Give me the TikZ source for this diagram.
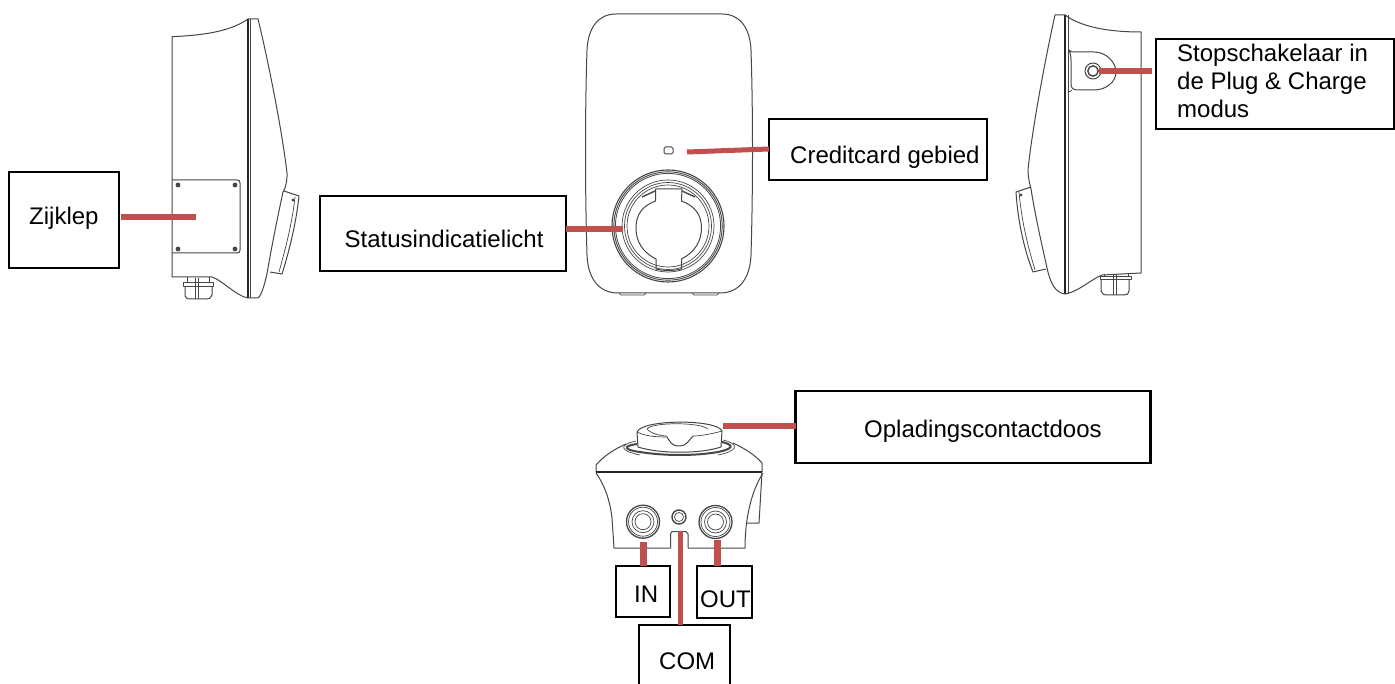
\documentclass[tikz,border=0pt]{standalone}
\usepackage{fontspec}
\setmainfont{Liberation Sans}
\definecolor{redline}{RGB}{192,80,77}
\definecolor{ink}{RGB}{70,70,70}
\tikzset{
  box/.style={draw=black,line width=2.8pt,rectangle,inner sep=0pt,outer sep=0pt},
  lbl/.style={font=\fontsize{24}{28}\selectfont,inner sep=0pt,anchor=base west,text=black},
  lead/.style={draw=redline,line width=6.5pt},
  art/.style={draw=ink,line width=1pt,line join=round},
  artthick/.style={draw=black!85,line width=2pt},
  fine/.style={draw=ink,line width=.7pt},
}
\begin{document}
\begin{tikzpicture}[x=1pt,y=-1pt]
\clip (0,0) rectangle (1395,684);
\useasboundingbox (0,0) rectangle (1395,684);
\fill[white] (0,0) rectangle (1395,684);

% ---- left side view
\draw[art] (248,19) .. controls (232,30) and (210,35) .. (172,36.7) -- (172,277) -- (212,277)
  .. controls (222,280) and (236,296) .. (248,298);
\draw[artthick] (248,19) -- (248,298);
\draw[fine] (250.5,19) -- (250.5,298);
\draw[art] (248,19) -- (258,19) .. controls (268,60) and (282,130) .. (287,173)
  .. controls (287.5,180) and (285,190) .. (283,192)
  .. controls (277,220) and (272,245) .. (268,268) .. controls (266,280) and (262,295) .. (258,298) -- (248,298);
\draw[art] (284,191) -- (299,196) .. controls (296,225) and (288,255) .. (282,274) -- (270,272);
\draw[fine] (295,197) .. controls (292,225) and (285,250) .. (279,272);
\fill[ink] (293,200) circle (1.6);
\draw[art] (172,180) -- (237,180) .. controls (239,180) and (240,181) .. (240,183) -- (240,250) .. controls (240,252) and (239,253) .. (237,253) -- (172,253);
\foreach \sx/\sy in {178/185,235/185,178/249,235/249}{\fill[ink] (\sx,\sy) circle (2.4);}
\draw[art] (183,283) rectangle (213,287);
\draw[art] (185,287) -- (185,296) .. controls (186,299) and (188,299) .. (190,299) -- (207,299) .. controls (209,299) and (211,298) .. (212,295) -- (212,287);
\draw[fine] (198,278) -- (198,299);\draw[fine] (195,278) -- (195,299);
\draw[fine] (187,277) -- (187,283);\draw[fine] (209,277) -- (209,283);

% ---- front view
\draw[art] (616,14) -- (722,14) .. controls (740,14) and (750,28) .. (751,50)
  .. controls (753,110) and (753,190) .. (751,255) .. controls (750,280) and (738,293) .. (720,293)
  -- (618,293) .. controls (600,293) and (588,280) .. (587,255)
  .. controls (585,190) and (585,110) .. (587,50) .. controls (588,28) and (598,14) .. (616,14) -- cycle;
\draw[fine] (619,293) -- (621,295) -- (644,295) -- (646,293);
\draw[fine] (692,293) -- (694,295) -- (717,295) -- (719,293);
\draw[art,rounded corners=1.5pt] (664,147) rectangle (673,154);
\draw[line width=1.1pt,draw=ink] (668,226) circle (56);
\draw[line width=.9pt,draw=ink] (668,226) circle (54.2);
\draw[line width=.8pt,draw=ink] (668,226) circle (52.6);
\draw[fine] (668,226) circle (46);
\draw[fine] (668,226) circle (43.5);
\draw[fine] (668,226) circle (41);
\draw[art] (655.5,189) -- (682,189) -- (681.5,201) .. controls (695,206) and (701.5,215) .. (701.5,228)
  .. controls (701.5,241) and (695,252) .. (681.5,259) -- (681.5,269) .. controls (673,271) and (664,271) .. (656,269)
  -- (656,259) .. controls (642,252) and (636,241) .. (636,228) .. controls (636,215) and (642,206) .. (655.5,201) -- cycle;
\draw[line width=1.4pt,draw=ink] (642,197) -- (655,191); \draw[line width=1.4pt,draw=ink] (682,191) -- (695,197);

% ---- right side view
\draw[art] (1065,15) .. controls (1080,26) and (1105,32) .. (1141,32) -- (1141,273) -- (1102,275)
  .. controls (1090,280) and (1078,292) .. (1065,294);
\draw[artthick] (1065,15) -- (1065,294);
\draw[fine] (1068,15) -- (1068,294);
\draw[art] (1065,15) -- (1055,15) .. controls (1045,60) and (1032,130) .. (1028,170)
  .. controls (1028,178) and (1030,185) .. (1031,189)
  .. controls (1036,220) and (1042,245) .. (1047,268) .. controls (1050,282) and (1055,293) .. (1065,294);
\draw[art] (1031,187) -- (1016,192) .. controls (1018,225) and (1026,255) .. (1033,272) -- (1046,269);
\draw[fine] (1019,192) .. controls (1022,225) and (1029,250) .. (1035,270);
\fill[ink] (1021,195) circle (1.6);
\draw[art] (1069,50) .. controls (1071,52) and (1072,52) .. (1074,52) -- (1094,52)
  .. controls (1106,52) and (1116,62) .. (1116,72) .. controls (1116,82) and (1106,90) .. (1094,90)
  -- (1078,90) .. controls (1073,90) and (1071,88) .. (1071,84) -- (1071,60) .. controls (1071,56) and (1070,52) .. (1069,50);
\draw[fine] (1068,92) .. controls (1070,92) and (1071,91) .. (1072,90);
\draw[art] (1093,71) circle (8);
\draw[line width=1.4pt,draw=ink] (1093,71) circle (5.2);
\draw[art] (1100,277) rectangle (1131,280);
\draw[art] (1101,280) -- (1101,291) .. controls (1102,294) and (1104,295) .. (1106,295) -- (1124,295) .. controls (1127,295) and (1129,294) .. (1129,291) -- (1129,280);
\draw[fine] (1113,274) -- (1113,295);\draw[fine] (1116,274) -- (1116,295);
\draw[fine] (1104,274) -- (1104,277);\draw[fine] (1128,274) -- (1128,277);

% ---- bottom view
\draw[art] (637,432) .. controls (642,419) and (717,419) .. (722,431)
  -- (721,447) .. controls (700,454) and (660,454) .. (638,447) -- cycle;
\draw[fine] (647,429) .. controls (652,422) and (700,422) .. (708,429);
\draw[fine] (647,429) .. controls (650,433) and (660,436) .. (667,436);
\draw[fine] (693,436) .. controls (700,436) and (712,434) .. (722,431);
\draw[fine] (637,432) .. controls (645,436) and (655,437) .. (667,437);
\draw[art] (667,437) .. controls (670,441) and (671,446) .. (679,446) .. controls (687,446) and (689,440) .. (693,436);
\draw[line width=2pt,draw=ink] (637,444) .. controls (622,446) and (624,450) .. (640,452) .. controls (665,456) and (695,456) .. (718,452) .. controls (733,449) and (735,445) .. (722,442);
\draw[fine] (636,441) .. controls (618,445) and (620,451) .. (640,455);
\draw[fine] (723,440) .. controls (740,444) and (738,451) .. (718,455);
\draw[art] (626,444) .. controls (612,450) and (602,458) .. (596,465) -- (596,472);
\draw[art] (733,443) .. controls (746,449) and (756,456) .. (762,463) -- (762,472);
\draw[artthick] (596,472) -- (762,472);
\draw[art] (596,473) .. controls (604,484) and (610,500) .. (612,518) -- (614,548) -- (670.5,548) -- (670.5,534) -- (672,531.5) -- (686,531.5) -- (688,534) -- (688,548) -- (745,548)
  .. controls (745,525) and (749,495) .. (763,473);
\draw[art] (746.5,523) -- (759,523) -- (762,473);
\foreach \gx/\gy in {643/521.7,715.5/522}{
  \draw[line width=1.3pt,draw=ink] (\gx,\gy) circle (16.5);
  \draw[fine] (\gx,\gy) circle (14.5);
  \draw[fine] (\gx,\gy) circle (11);
  \draw[fine] (\gx,\gy) circle (8);
}
\draw[line width=1.4pt,draw=ink] (679,517) circle (7);
\draw[fine] (679,517) circle (4.5);

% ---- label boxes
\node[box,minimum width=110pt,minimum height=96pt] (zij) at (64,220) {};
\node[lbl] (zijT) at (29,225) {Zijklep};
\node[box,minimum width=246pt,minimum height=75pt] (sta) at (443,233.5) {};
\node[lbl] (staT) at (344.5,248) {Statusindicatielicht};
\node[box,minimum width=218pt,minimum height=61pt] (cre) at (878,149.5) {};
\node[lbl] (creT) at (790,164) {Creditcard gebied};
\node[box,minimum width=238pt,minimum height=90pt] (sto) at (1275,84) {};
\node[lbl,align=left,anchor=north west] (stoT) at (1177,44) {Stopschakelaar in\\de Plug \& Charge\\modus};
\node[box,minimum width=355pt,minimum height=72pt] (opl) at (973,427) {};
\node[lbl] (oplT) at (864,437) {Opladingscontactdoos};
\node[box,minimum width=54pt,minimum height=51pt] (in) at (643,591.5) {};
\node[lbl] (inT) at (634,602) {IN};
\node[box,minimum width=55pt,minimum height=52pt] (out) at (724.5,592) {};
\node[lbl] (outT) at (700,607) {OUT};
\node[box,minimum width=91pt,minimum height=80pt] (com) at (684.5,665) {};
\node[lbl] (comT) at (659,669) {COM};

% ---- leader lines
\coordinate (zijP) at (196,217);
\coordinate (staP) at (623,229);
\coordinate (creP) at (687,152);
\coordinate (stoP) at (1099,71);
\coordinate (oplP) at (723,426);
\coordinate (inP) at (643,542);
\coordinate (outP) at (717,540);
\coordinate (comP) at (680,531);
\draw[lead] (zijP) -- ([xshift=2pt]zij.east |- zijP);
\draw[lead] (staP) -- (sta.east |- staP);
\draw[lead,line width=5pt] (creP) -- ([yshift=3pt]cre.west |- creP);
\draw[lead] (stoP) -- ([xshift=-4pt]sto.west |- stoP);
\draw[lead] (oplP) -- (opl.west |- oplP);
\draw[lead,line width=7pt] (inP) -- (in.north -| inP);
\draw[lead,line width=7pt] (outP) -- (out.north -| outP);
\draw[lead,line width=5pt] (comP) -- (com.north -| comP);
\end{tikzpicture}
\end{document}
